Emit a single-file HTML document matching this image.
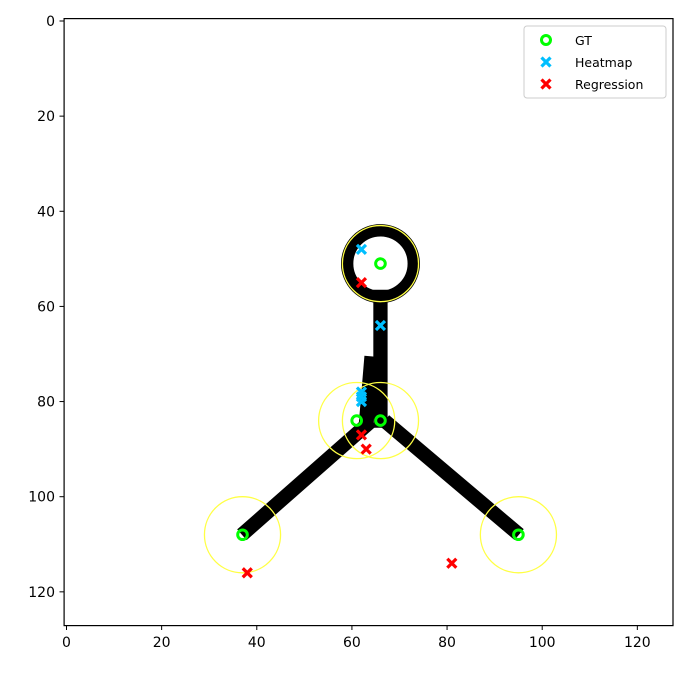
<!DOCTYPE html>
<html><head><meta charset="utf-8"><style>
body{margin:0;background:#fff;}
svg{display:block;font-family:"DejaVu Sans","Liberation Sans",sans-serif;}
</style></head><body>
<svg id="chart" width="687" height="674" viewBox="0 0 687 674">
<defs><clipPath id="clip"><rect x="64.1" y="18.6" width="608.9" height="607"/></clipPath></defs>
<rect x="64.1" y="18.6" width="608.9" height="607" fill="#fff"/>
<g id="skel" clip-path="url(#clip)"></g>
<g id="rings" clip-path="url(#clip)"></g>
<g id="marks"></g>
<rect x="64.1" y="18.6" width="608.9" height="607" fill="none" stroke="#000" stroke-width="1.2"/>
<g id="ticks"></g>
<g>
<rect x="524" y="26" width="142" height="72" rx="3" fill="#fff" stroke="#ccc"/>
<g><circle cx="546" cy="40" r="4.5" fill="none" stroke="#00ff00" stroke-width="3"/><text x="575" y="45" font-size="12.5">GT</text></g>
<g><path d="M541.5 57.5l9 9M550.5 57.5l-9 9" stroke="#00bfff" stroke-width="3.2"/><text x="575" y="67" font-size="12.5">Heatmap</text></g>
<g><path d="M541.5 79.5l9 9M550.5 79.5l-9 9" stroke="#ff0000" stroke-width="3.2"/><text x="575" y="89" font-size="12.5">Regression</text></g>
</g>
</svg>
<script>
const gtX=[66,61,66,37,95];
const gtY=[51,84,84,108,108];
const hmX=[62,66,62,62,62];
const hmY=[48,64,78,79,80];
const rgX=[62,62,63,38,81];
const rgY=[55,87,90,116,114];
const ringX=[66,61,66,37,95];
const ringY=[51,84,84,108,108];
const ringR=[8,8,8,8,8];
const headCenter=[66,51];
const headRadius=[7];
const boneX1=[66,64,63,68];
const boneY1=[58,72,85,85];
const boneX2=[66,63,38,94];
const boneY2=[84,84,107,107];
const xTicks=[0,20,40,60,80,100,120];
const yTicks=[0,20,40,60,80,100,120];
const S=4.757, X0=66.5, Y0=21;
const sx=v=>X0+v*S, sy=v=>Y0+v*S;
const NS='http://www.w3.org/2000/svg';
function mk(tag,attrs,parent){const e=document.createElementNS(NS,tag);for(const k in attrs)e.setAttribute(k,attrs[k]);parent.appendChild(e);return e;}
const skel=document.getElementById('skel'),rings=document.getElementById('rings'),marks=document.getElementById('marks'),ticks=document.getElementById('ticks');
let hc=mk('circle',{cx:sx(headCenter[0]),cy:sy(headCenter[1]),r:headRadius[0]*S,fill:'none',stroke:'#000','stroke-width':2.6*S},skel);


for(let i=0;i<boneX1.length;i++){
 const l=mk('line',{x1:sx(boneX1[i]),y1:sy(boneY1[i]),x2:sx(boneX2[i]),y2:sy(boneY2[i]),stroke:'#000','stroke-width':3*S,'stroke-linecap':'square'},skel);
 
 
}
for(let i=0;i<ringX.length;i++){
 const c=mk('circle',{cx:sx(ringX[i]),cy:sy(ringY[i]),r:ringR[i]*S,fill:'none',stroke:'#ffff44','stroke-width':1.3},rings);
 
 
}
function cross(x,y,col){const p=mk('path',{d:`M${x-4.5} ${y-4.5}l9 9M${x+4.5} ${y-4.5}l-9 9`,stroke:col,'stroke-width':3.2},marks);return p;}
for(let i=0;i<hmX.length;i++){const p=cross(sx(hmX[i]),sy(hmY[i]),'#00bfff');
 
 }
for(let i=0;i<rgX.length;i++){const p=cross(sx(rgX[i]),sy(rgY[i]),'#ff0000');
 
 }
for(let i=0;i<gtX.length;i++){const c=mk('circle',{cx:sx(gtX[i]),cy:sy(gtY[i]),r:4.8,fill:'none',stroke:'#00ff00','stroke-width':3},marks);
 
 }
xTicks.forEach(t=>{const x=sx(t);
 mk('line',{x1:x,y1:625.6,x2:x,y2:630,stroke:'#000'},ticks);
 const tx=mk('text',{x:x,y:647,'font-size':14,'text-anchor':'middle'},ticks);tx.textContent=t;
 
 });
yTicks.forEach(t=>{const y=sy(t);
 mk('line',{x1:59.5,y1:y,x2:64.1,y2:y,stroke:'#000'},ticks);
 const tx=mk('text',{x:55,y:y+5,'font-size':14,'text-anchor':'end'},ticks);tx.textContent=t;
 
 });
</script>
</body></html>
